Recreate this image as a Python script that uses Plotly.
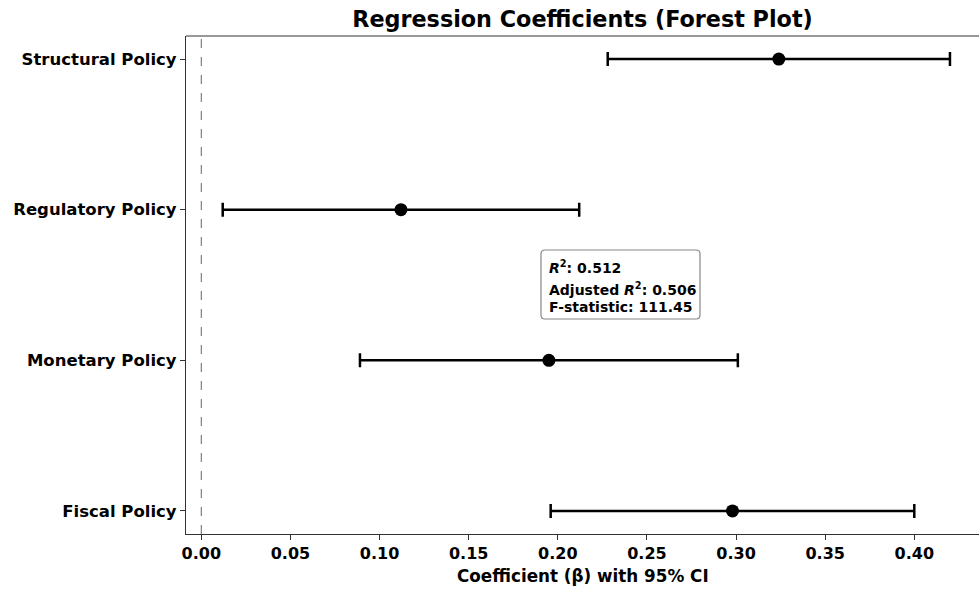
import plotly.graph_objects as go

categories = ["Fiscal Policy", "Monetary Policy", "Regulatory Policy", "Structural Policy"]
coef = [0.298, 0.195, 0.112, 0.324]
ci_low = [0.196, 0.089, 0.012, 0.228]
ci_high = [0.400, 0.301, 0.212, 0.420]
x_ticks = [0.00, 0.05, 0.10, 0.15, 0.20, 0.25, 0.30, 0.35, 0.40]
stats_lines = ["<i>R</i><sup>2</sup>: 0.512",
               "Adjusted <i>R</i><sup>2</sup>: 0.506",
               "F-statistic: 111.45"]

FONT = "DejaVu Sans"
W, H = 979, 590
L, T, B = 186, 36, 56
PH = H - T - B
PW = W - L
XR = [-0.0086, 0.4363]


def px_to_x(px):
    return XR[0] + (px - L) / PW * (XR[1] - XR[0])


def py_to_paper(py):
    return (H - B - py) / PH


fig = go.Figure()
fig.add_trace(go.Scatter(
    x=coef, y=categories, mode="markers",
    marker=dict(color="black", size=13),
    error_x=dict(type="data", symmetric=False,
                 array=[h - c for h, c in zip(ci_high, coef)],
                 arrayminus=[c - l for c, l in zip(coef, ci_low)],
                 color="black", thickness=2.5, width=7),
    showlegend=False, hoverinfo="skip",
))

fig.add_shape(type="line", xref="x", yref="paper", x0=0, x1=0, y0=0, y1=1,
              line=dict(color="gray", width=1.2, dash="dash"), layer="below")
# top spine
fig.add_shape(type="line", xref="paper", yref="paper", x0=0, x1=1, y0=1, y1=1,
              line=dict(color="#333333", width=1.2))

# rounded stats box
x0, x1 = px_to_x(541), px_to_x(700)
y0, y1 = py_to_paper(319), py_to_paper(250)
rx = px_to_x(541 + 4) - x0
ry = 4 / PH
path = (f"M {x0 + rx},{y1} L {x1 - rx},{y1} Q {x1},{y1} {x1},{y1 - ry} "
        f"L {x1},{y0 + ry} Q {x1},{y0} {x1 - rx},{y0} "
        f"L {x0 + rx},{y0} Q {x0},{y0} {x0},{y0 + ry} "
        f"L {x0},{y1 - ry} Q {x0},{y1} {x0 + rx},{y1} Z")
fig.add_shape(type="path", xref="x", yref="paper", path=path,
              fillcolor="white", line=dict(color="#888888", width=1.2))
for line_text, cy in zip(stats_lines, [266.5, 288.5, 307]):
    fig.add_annotation(x=px_to_x(546.5), y=py_to_paper(cy), xref="x", yref="paper",
                       xanchor="left", yanchor="middle", text=line_text, showarrow=False,
                       font=dict(family=FONT, size=14, color="black", weight="bold"))

fig.add_annotation(x=0.5, y=py_to_paper(576), xref="paper", yref="paper",
                   xanchor="center", yanchor="middle",
                   text="<b>Coefficient (β) with 95% CI</b>", showarrow=False,
                   font=dict(family=FONT, size=16.8, color="black"))

fig.update_layout(
    width=W, height=H,
    margin=dict(l=L, r=0, t=T, b=B),
    paper_bgcolor="white", plot_bgcolor="white",
    title=dict(text="<b>Regression Coefficients (Forest Plot)</b>", x=0.5, xref="paper",
               y=1 - 19.5 / H, yref="container", xanchor="center", yanchor="middle",
               font=dict(family=FONT, size=22.3, color="black")),
    font=dict(family=FONT, color="black"),
)
fig.update_xaxes(range=XR, tickvals=x_ticks,
                 ticktext=[f"<b>{v:.2f}</b>" for v in x_ticks],
                 showgrid=False, zeroline=False, showline=True, linecolor="#333333", linewidth=1.2,
                 ticks="outside", ticklen=5, tickcolor="#333333",
                 tickfont=dict(family=FONT, size=16, color="black"))
fig.update_yaxes(type="category", categoryorder="array", categoryarray=categories,
                 range=[-0.153, 3.153],
                 tickvals=categories, ticktext=[f"<b>{c}</b>" for c in categories],
                 showgrid=False, zeroline=False, showline=True, linecolor="#333333", linewidth=1.2,
                 ticks="outside", ticklen=5, tickcolor="#333333",
                 tickfont=dict(family=FONT, size=16.5, color="black"))

fig.write_html("out.html", config={"displayModeBar": False},
               post_script="document.body.style.margin='0px';document.body.style.overflow='hidden';")
